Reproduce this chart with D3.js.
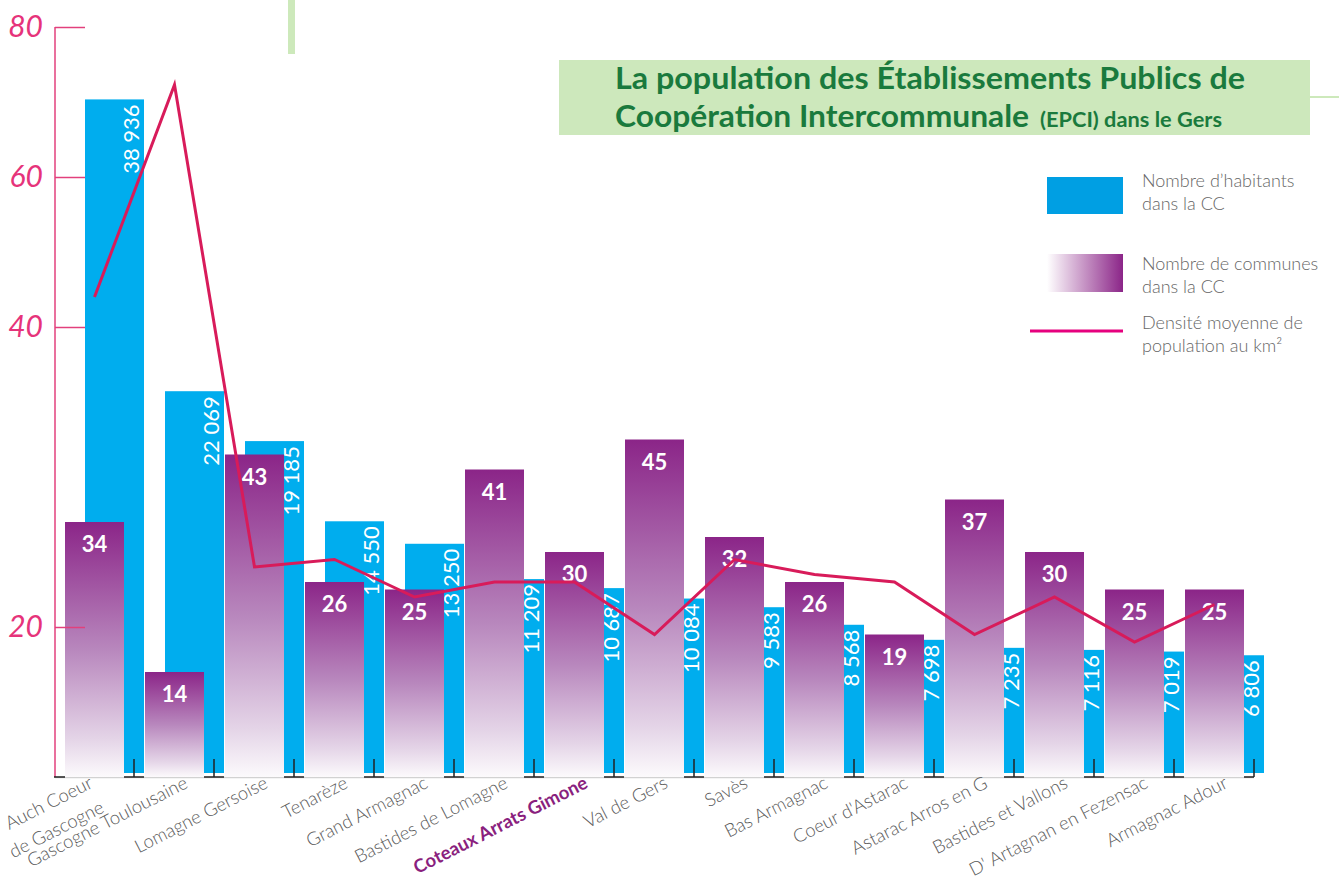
<!DOCTYPE html>
<html lang="fr">
<head>
<meta charset="utf-8">
<title>Population des EPCI dans le Gers</title>
<script src="https://d3js.org/d3.v7.min.js"></script>
<style>
  html, body { margin: 0; padding: 0; background: #fff; }
  svg { display: block; font-family: Lato, "Open Sans", sans-serif; }
</style>
</head>
<body>
<div id="chart"></div>
<script>
'use strict';

// one entry per EPCI, same order everywhere
const epci = ["Auch Coeur de Gascogne", "Gascogne Toulousaine", "Lomagne Gersoise", "Tenarèze",
    "Grand Armagnac", "Bastides de Lomagne", "Coteaux Arrats Gimone", "Val de Gers", "Savès",
    "Bas Armagnac", "Coeur d'Astarac", "Astarac Arros en G", "Bastides et Vallons",
    "D' Artagnan en Fezensac", "Armagnac Adour"];
const epciLabels = [["Auch Coeur", "de Gascogne"], ["Gascogne Toulousaine"], ["Lomagne Gersoise"], ["Tenarèze"],
    ["Grand Armagnac"], ["Bastides de Lomagne"], ["Coteaux Arrats Gimone"], ["Val de Gers"], ["Savès"],
    ["Bas Armagnac"], ["Coeur d'Astarac"], ["Astarac Arros en G"], ["Bastides et Vallons"],
    ["D' Artagnan en Fezensac"], ["Armagnac Adour"]];
const highlighted = "Coteaux Arrats Gimone";

// Nombre d'habitants dans la CC
const habitants = [38936, 22069, 19185, 14550, 13250, 11209, 10687, 10084, 9583, 8568, 7698, 7235, 7116, 7019, 6806];
// Nombre de communes dans la CC
const communes = [34, 14, 43, 26, 25, 41, 30, 45, 32, 26, 19, 37, 30, 25, 25];
// Densite moyenne (hab/km2)
const densite = [44, 72.3, 24, 24.5, 22, 23, 23, 19.5, 24.5, 23.5, 23, 19.5, 22, 19, 21.5];
// left axis (the original axis is not evenly spaced)
const densiteTicks = [20, 40, 60, 80];
const densiteTickPos = [627, 327, 177, 27];

const legendLabels = [["Nombre d\u2019habitants", "dans la CC"], ["Nombre de communes", "dans la CC"],
    ["Densit\u00e9 moyenne de", "population au km\u00b2"]];

const blue = "#00adee";
const pink = "#e2407c";
const lineColor = "#d81b5a";

const fr = d3.formatLocale({ decimal: ",", thousands: " ", grouping: [3], currency: ["", " €"] });
const fmtPop = fr.format(",d");

const width = 1339, height = 881;
const baseY = 777;

const svg = d3.select("#chart").append("svg")
    .attr("width", width)
    .attr("height", height);

const defs = svg.append("defs");
const grad = defs.append("linearGradient")
    .attr("id", "gradCommunes")
    .attr("x1", 0).attr("y1", 0).attr("x2", 0).attr("y2", 1);
grad.append("stop").attr("offset", 0).attr("stop-color", "#8b2588");
grad.append("stop").attr("offset", 0.5).attr("stop-color", "#b887bd");
grad.append("stop").attr("offset", 0.85).attr("stop-color", "#e4d4e7");
grad.append("stop").attr("offset", 1).attr("stop-color", "#fcfafc");

const gradLeg = defs.append("linearGradient")
    .attr("id", "gradLegend")
    .attr("x1", 0).attr("y1", 0).attr("x2", 1).attr("y2", 0);
gradLeg.append("stop").attr("offset", 0).attr("stop-color", "#ffffff");
gradLeg.append("stop").attr("offset", 1).attr("stop-color", "#8b2588");

// decorative green bits
svg.append("rect").attr("x", 288).attr("y", 0).attr("width", 7).attr("height", 54).attr("fill", "#cde9bb");
svg.append("line").attr("x1", 1310).attr("x2", width).attr("y1", 97).attr("y2", 97)
    .attr("stroke", "#cde9bb").attr("stroke-width", 2);

// scales
const x = d3.scaleBand().domain(epci).range([55, 55 + 80 * epci.length]).padding(0);
const yPop = d3.scaleLinear().domain([0, 40000]).range([773, 81]);
const yCom = d3.scaleLinear().domain([0, 100]).range([baseY, 27]);
const yDens = d3.scaleLinear().domain(densiteTicks).range(densiteTickPos);

const rows = epci.map((name, i) => ({
    name: name, label: epciLabels[i], hab: habitants[i], com: communes[i], dens: densite[i]
}));

// baseline
svg.append("line")
    .attr("x1", 55).attr("x2", x(epci[epci.length - 1]) + 79)
    .attr("y1", baseY + 0.5).attr("y2", baseY + 0.5)
    .attr("stroke", "#d2d2d2").attr("stroke-width", 1.5);

// blue bars (behind)
svg.selectAll(".bar-hab")
    .data(rows)
    .enter()
    .append("rect")
    .attr("class", "bar-hab")
    .attr("x", d => x(d.name) + 30)
    .attr("width", 59)
    .attr("y", d => yPop(d.hab))
    .attr("height", d => yPop(0) - yPop(d.hab))
    .attr("fill", blue);

// vertical population labels
svg.selectAll(".lab-hab")
    .data(rows)
    .enter()
    .append("text")
    .attr("class", "lab-hab")
    .attr("transform", d => "translate(" + (x(d.name) + 84) + "," + (yPop(d.hab) + 5) + ") rotate(-90)")
    .attr("text-anchor", "end")
    .attr("fill", "#fff")
    .style("font-size", "22px")
    .text(d => fmtPop(d.hab));

// purple gradient bars
svg.selectAll(".bar-com")
    .data(rows)
    .enter()
    .append("rect")
    .attr("class", "bar-com")
    .attr("x", d => x(d.name) + 10)
    .attr("width", 59)
    .attr("y", d => yCom(d.com))
    .attr("height", d => baseY - yCom(d.com))
    .attr("fill", "url(#gradCommunes)");

svg.selectAll(".lab-com")
    .data(rows)
    .enter()
    .append("text")
    .attr("class", "lab-com")
    .attr("x", d => x(d.name) + 39.5)
    .attr("y", d => yCom(d.com) + 30)
    .attr("text-anchor", "middle")
    .attr("fill", "#fff")
    .style("font-size", "22px")
    .style("font-weight", 700)
    .text(d => d.com);

// x ticks, drawn as small inverted T's
const ticks = svg.selectAll(".xtick")
    .data(rows)
    .enter()
    .append("g")
    .attr("class", "xtick")
    .attr("transform", d => "translate(" + (x(d.name) + 79) + "," + baseY + ")")
    .attr("stroke", "#222")
    .attr("stroke-width", 1.5);
ticks.append("line").attr("x1", 0).attr("x2", 0).attr("y1", -18).attr("y2", 0);
ticks.append("line")
    .attr("x1", -10)
    .attr("x2", (d, i) => i === rows.length - 1 ? 0 : 10)
    .attr("y1", 0).attr("y2", 0);

// x labels
const xl = svg.selectAll(".xlab")
    .data(rows)
    .enter()
    .append("text")
    .attr("class", "xlab")
    .attr("transform", d => "translate(" + (x(d.name) + (d.label.length > 1 ? 39 : 54)) + ",787) rotate(-27)")
    .attr("text-anchor", "end")
    .attr("fill", d => d.name === highlighted ? "#8a1f7e" : "#5a5a5a")
    .style("font-size", "18.5px")
    .style("font-weight", d => d.name === highlighted ? 700 : 300);
xl.selectAll("tspan")
    .data(d => d.label)
    .enter()
    .append("tspan")
    .attr("x", (d, i) => i === 0 ? 0 : -1)
    .attr("dy", (d, i) => i === 0 ? 0 : 27)
    .text(d => d);

// left density axis
svg.append("line")
    .attr("x1", 55).attr("x2", 55).attr("y1", 27).attr("y2", baseY)
    .attr("stroke", pink).attr("stroke-width", 1.5);
svg.append("line")
    .attr("x1", 54).attr("x2", 65).attr("y1", baseY).attr("y2", baseY)
    .attr("stroke", "#222").attr("stroke-width", 1.5);

const yAxis = d3.axisLeft(yDens)
    .tickValues(densiteTicks)
    .tickSize(-30)
    .tickPadding(12)
    .tickFormat(d3.format("d"));
const ga = svg.append("g")
    .attr("transform", "translate(55,0)")
    .call(yAxis);
ga.select(".domain").remove();
ga.selectAll(".tick line").attr("stroke", pink).attr("stroke-width", 1.5);
ga.selectAll(".tick text")
    .attr("fill", "#e6337a")
    .style("font-family", "Lato, sans-serif")
    .style("font-size", "30px")
    .style("font-style", "italic")
    .style("font-weight", 400);

// density line
const line = d3.line()
    .x(d => x(d.name) + 39.5)
    .y(d => yDens(d.dens));
svg.append("path")
    .datum(rows)
    .attr("d", line)
    .attr("fill", "none")
    .attr("stroke", lineColor)
    .attr("stroke-width", 3)
    .attr("stroke-linejoin", "miter");

// title box
svg.append("rect")
    .attr("x", 559).attr("y", 60).attr("width", 751).attr("height", 75)
    .attr("fill", "#cde8bc");
svg.append("text")
    .attr("x", 615).attr("y", 89)
    .attr("textLength", 630).attr("lengthAdjust", "spacingAndGlyphs")
    .attr("fill", "#1a7a3d")
    .style("font-size", "31px").style("font-weight", 700)
    .text("La population des \u00c9tablissements Publics de");
svg.append("text")
    .attr("x", 615).attr("y", 127)
    .attr("textLength", 414).attr("lengthAdjust", "spacingAndGlyphs")
    .attr("fill", "#1a7a3d")
    .style("font-size", "31px").style("font-weight", 700)
    .text("Coop\u00e9ration Intercommunale");
svg.append("text")
    .attr("x", 1040).attr("y", 127)
    .attr("textLength", 182).attr("lengthAdjust", "spacingAndGlyphs")
    .attr("fill", "#1a7a3d")
    .style("font-size", "20px").style("font-weight", 700)
    .text("(EPCI) dans le Gers");

// legend
const leg = svg.append("g");
leg.append("rect").attr("x", 1047).attr("y", 177).attr("width", 76).attr("height", 37).attr("fill", "#009fe3");
leg.append("rect").attr("x", 1047).attr("y", 254).attr("width", 76).attr("height", 38).attr("fill", "url(#gradLegend)");
leg.append("line").attr("x1", 1030).attr("x2", 1123).attr("y1", 331).attr("y2", 331)
    .attr("stroke", "#e6007e").attr("stroke-width", 3);

const legY = [187, 270, 329];
legendLabels.forEach((lines, i) => {
    const t = leg.append("text")
        .attr("x", 1142).attr("y", legY[i])
        .attr("fill", "#666")
        .style("font-size", "18px")
        .style("font-weight", 300);
    lines.forEach((s, j) => {
        t.append("tspan").attr("x", 1142).attr("dy", j === 0 ? 0 : 22.5).text(s);
    });
});
</script>
</body>
</html>
